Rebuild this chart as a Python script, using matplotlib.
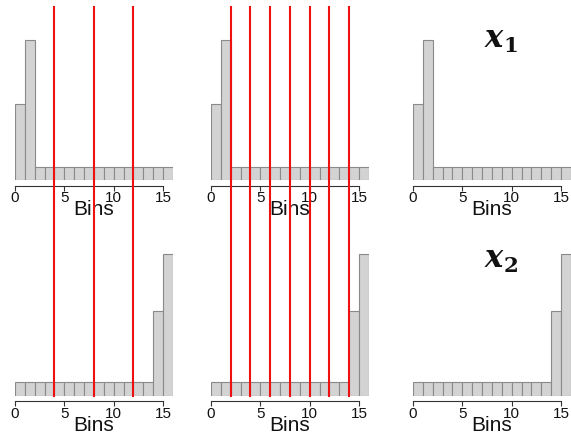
import matplotlib
matplotlib.use("Agg")
from matplotlib import pyplot as plt
from matplotlib.lines import Line2D
from matplotlib import transforms

plt.rcParams['font.family'] = ['Liberation Sans', 'DejaVu Sans']
plt.rcParams['mathtext.fontset'] = 'dejavuserif'

# histogram bins (left edges, unit width) and counts per feature
bin_edges = [0, 1, 2, 3, 4, 5, 6, 7, 8, 9, 10, 11, 12, 13, 14, 15, 16]
x1_counts = [5.6, 10.4, 1, 1, 1, 1, 1, 1, 1, 1, 1, 1, 1, 1, 1, 1]
x2_counts = [1, 1, 1, 1, 1, 1, 1, 1, 1, 1, 1, 1, 1, 1, 6.3, 10.5]
row_counts = [x1_counts, x2_counts]
row_titles = [r'$\mathbfit{x}_{\mathbf{1}}$', r'$\mathbfit{x}_{\mathbf{2}}$']

# split points drawn over the first two columns
splits_coarse = [4, 8, 12]
splits_fine = [2, 4, 6, 8, 10, 12, 14]
col_splits = [splits_coarse, splits_fine, []]
tick_vals = [0, 5, 10, 15]

W, H = 571, 435
fig = plt.figure(figsize=(W / 100, H / 100), dpi=100)

col_left = [15, 211, 413]   # pixel x of bin 0
row_base = [181, 396.7]     # pixel y (from top) of bar bottoms
unit_x = 9.87
unit_y = 13.5
ymax = 12


def add_panel(left, base):
    ax = fig.add_axes([left / W, (H - base) / H, 16 * unit_x / W, ymax * unit_y / H])
    return ax


axes = []
for r, counts in enumerate(row_counts):
    row = []
    for c in range(3):
        ax = add_panel(col_left[c], row_base[r])
        ax.bar(bin_edges[:-1], counts, width=1, align='edge',
               color='#d3d3d3', edgecolor='#8a8a8a', linewidth=0.8)
        ax.set_xlim(0, 16)
        ax.set_ylim(0, ymax)
        for s in ['top', 'right', 'left']:
            ax.spines[s].set_visible(False)
        ax.spines['bottom'].set_position(('outward', 4))
        ax.spines['bottom'].set_bounds(0, 15)
        ax.spines['bottom'].set_color('#333333')
        ax.spines['bottom'].set_linewidth(0.8)
        ax.set_yticks([])
        ax.set_xticks(tick_vals)
        ax.set_xticklabels([str(t) for t in tick_vals])
        ax.tick_params(axis='x', length=3.5, width=0.8, color='#333333',
                       labelsize=11, pad=0, labelcolor='#111111')
        ax.patch.set_visible(False)
        ax.annotate('Bins', xy=(0.5, 0), xycoords='axes fraction',
                    xytext=(0, -34), textcoords='offset pixels',
                    ha='center', va='baseline', fontsize=15, color='#111111')
        row.append(ax)
    axes.append(row)

# feature names on the right column
for r, title in enumerate(row_titles):
    fig.text(501 / W, 1 - (40 + r * 220) / H, title, ha='center', va='center',
             fontsize=22, color='#111111')

# vertical split lines running through both rows
for c, splits in enumerate(col_splits):
    trans = transforms.blended_transform_factory(axes[0][c].transData, fig.transFigure)
    for xv in splits:
        fig.add_artist(Line2D([xv, xv], [1 - 8 / H, 1 - 397 / H], transform=trans,
                              color='#ee1111', linewidth=1.5, zorder=10))

fig.savefig('out.png', dpi=100)
